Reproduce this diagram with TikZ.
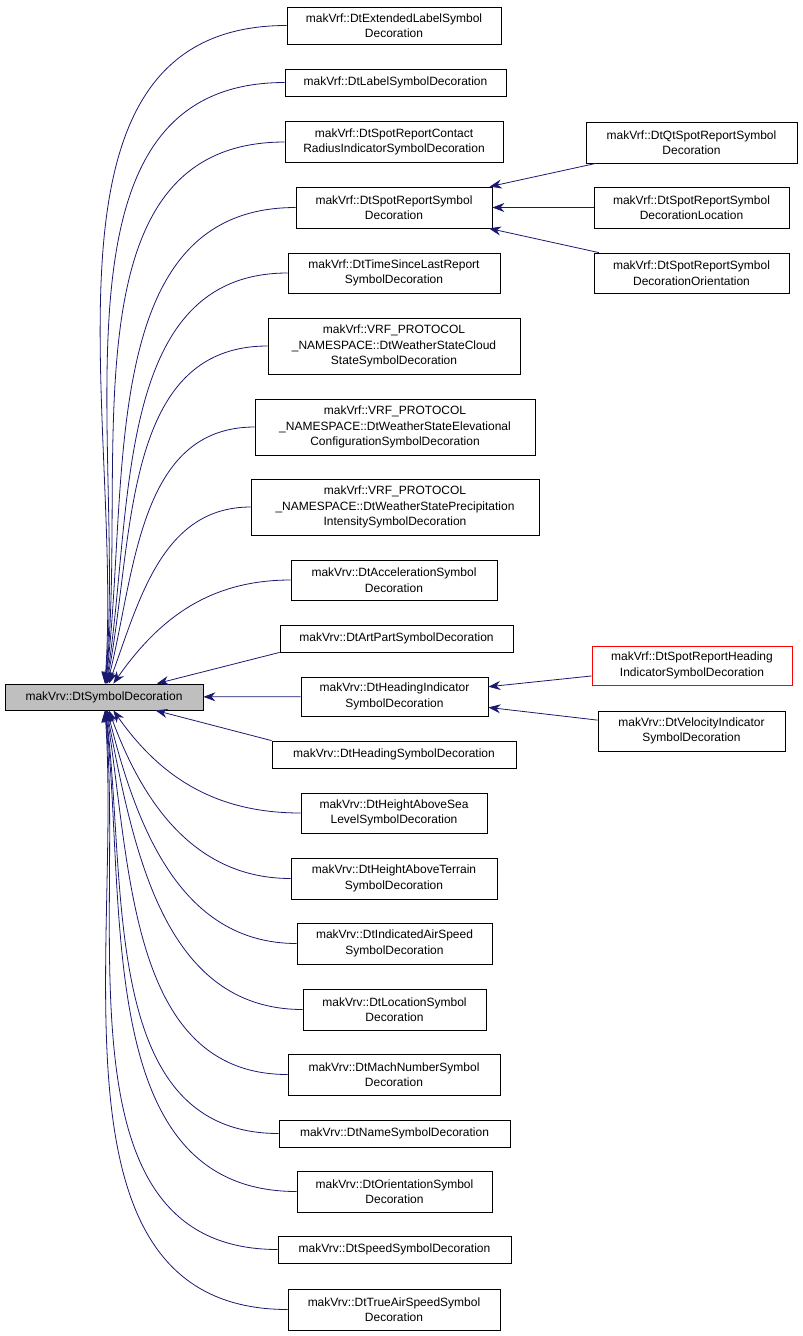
\documentclass[tikz,border=0pt]{standalone}
\usepackage{fontspec}
\setmainfont{Liberation Sans}
\usetikzlibrary{arrows.meta,positioning}
\definecolor{edgeblue}{RGB}{25,25,112}
\definecolor{rootgray}{RGB}{191,191,191}

\begin{document}
\begin{tikzpicture}[
    x=1pt, y=-1pt,
    cls/.style={draw=black, fill=white, align=center, inner sep=1pt,
        font=\fontsize{12}{15.5}\selectfont, line width=0.8pt},
    dep/.style={draw=edgeblue, line width=0.8pt,
        {Stealth[length=12pt,width=9pt]}-}
]
\useasboundingbox (0,0) rectangle (803,1336);

\node[cls, fill=rootgray, minimum width=198pt, minimum height=26pt] (root) at (104,697) {makVrv::DtSymbolDecoration};

% middle column
\node[cls, minimum width=214pt, minimum height=37pt] (ext) at (394,25.5) {makVrf::DtExtendedLabelSymbol\\Decoration};
\node[cls, minimum width=221pt, minimum height=27pt] (lbl) at (395.5,82.5) {makVrf::DtLabelSymbolDecoration};
\node[cls, minimum width=218pt, minimum height=41pt] (contact) at (394,142) {makVrf::DtSpotReportContact\\RadiusIndicatorSymbolDecoration};
\node[cls, minimum width=196pt, minimum height=41pt] (spot) at (394,207.5) {makVrf::DtSpotReportSymbol\\Decoration};
\node[cls, minimum width=212pt, minimum height=40pt] (since) at (394,273) {makVrf::DtTimeSinceLastReport\\SymbolDecoration};
\node[cls, minimum width=252pt, minimum height=56pt] (cloud) at (394,346) {makVrf::VRF\_PROTOCOL\\\_NAMESPACE::DtWeatherStateCloud\\StateSymbolDecoration};
\node[cls, minimum width=280pt, minimum height=56pt] (elev) at (395,427) {makVrf::VRF\_PROTOCOL\\\_NAMESPACE::DtWeatherStateElevational\\ConfigurationSymbolDecoration};
\node[cls, minimum width=288pt, minimum height=56pt] (precip) at (395,507) {makVrf::VRF\_PROTOCOL\\\_NAMESPACE::DtWeatherStatePrecipitation\\IntensitySymbolDecoration};
\node[cls, minimum width=206pt, minimum height=40pt] (accel) at (394,580) {makVrv::DtAccelerationSymbol\\Decoration};
\node[cls, minimum width=233pt, minimum height=27pt] (artpart) at (396.5,638.5) {makVrv::DtArtPartSymbolDecoration};
\node[cls, minimum width=187pt, minimum height=39pt] (hind) at (394.5,696.5) {makVrv::DtHeadingIndicator\\SymbolDecoration};
\node[cls, minimum width=244pt, minimum height=27pt] (heading) at (394,754.5) {makVrv::DtHeadingSymbolDecoration};
\node[cls, minimum width=186pt, minimum height=40pt] (sea) at (394,813) {makVrv::DtHeightAboveSea\\LevelSymbolDecoration};
\node[cls, minimum width=206pt, minimum height=41pt] (terrain) at (394,878.5) {makVrv::DtHeightAboveTerrain\\SymbolDecoration};
\node[cls, minimum width=195pt, minimum height=41pt] (ias) at (394.5,943.5) {makVrv::DtIndicatedAirSpeed\\SymbolDecoration};
\node[cls, minimum width=183pt, minimum height=41pt] (loc) at (394.5,1009.5) {makVrv::DtLocationSymbol\\Decoration};
\node[cls, minimum width=212pt, minimum height=41pt] (mach) at (394,1074.5) {makVrv::DtMachNumberSymbol\\Decoration};
\node[cls, minimum width=231pt, minimum height=27pt] (name) at (394.5,1133.5) {makVrv::DtNameSymbolDecoration};
\node[cls, minimum width=195pt, minimum height=41pt] (orient) at (394.5,1191.5) {makVrv::DtOrientationSymbol\\Decoration};
\node[cls, minimum width=233pt, minimum height=27pt] (speed) at (394.5,1249.5) {makVrv::DtSpeedSymbolDecoration};
\node[cls, minimum width=212pt, minimum height=41pt] (tas) at (394,1309.5) {makVrv::DtTrueAirSpeedSymbol\\Decoration};

% right column
\node[cls, minimum width=211pt, minimum height=41pt] (qtspot) at (691.5,142.5) {makVrf::DtQtSpotReportSymbol\\Decoration};
\node[cls, minimum width=195pt, minimum height=41pt] (spotloc) at (691.5,207.5) {makVrf::DtSpotReportSymbol\\DecorationLocation};
\node[cls, minimum width=195pt, minimum height=40pt] (spotori) at (691.5,273) {makVrf::DtSpotReportSymbol\\DecorationOrientation};
\node[cls, draw=red, minimum width=200pt, minimum height=39pt] (spothead) at (692,665.5) {makVrf::DtSpotReportHeading\\IndicatorSymbolDecoration};
\node[cls, minimum width=187pt, minimum height=40pt] (velo) at (691.5,731) {makVrv::DtVelocityIndicator\\SymbolDecoration};

% edges to the root
\foreach \n/\a in {ext/86, lbl/85, contact/84, spot/83, since/81, cloud/79,
    elev/76, precip/70, accel/55,
    sea/-55, terrain/-70, ias/-76, loc/-79, mach/-81, name/-83, orient/-84,
    speed/-85, tas/-86}
    \draw[dep] (root) to[out=\a, in=180] (\n.west);
\draw[dep] (root) -- (artpart.south west);
\draw[dep] (root) -- (hind);
\draw[dep] (root) -- (heading.north west);

\draw[dep] (spot) -- (qtspot);
\draw[dep] (spot) -- (spotloc);
\draw[dep] (spot) -- (spotori);
\draw[dep] (hind) -- (spothead);
\draw[dep] (hind) -- (velo);
\end{tikzpicture}
\end{document}
